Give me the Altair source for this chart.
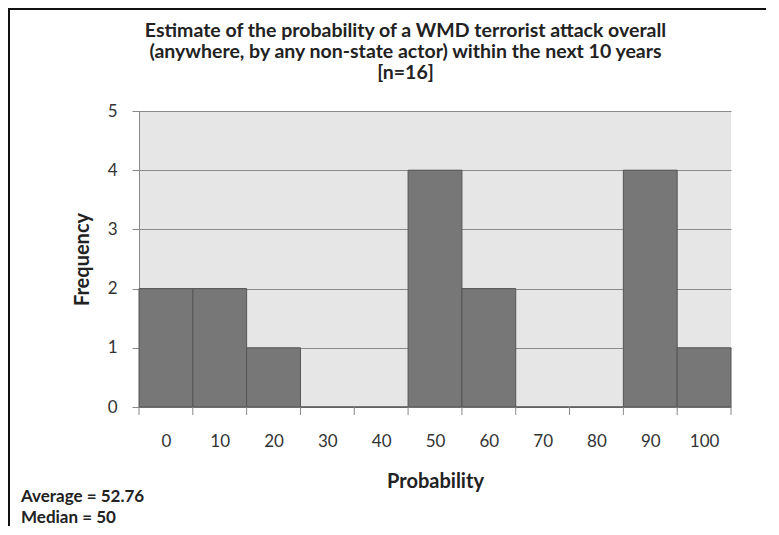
import altair as alt
import pandas as pd

# ---- data ----
probability = [0, 10, 20, 30, 40, 50, 60, 70, 80, 90, 100]
frequency = [2, 2, 1, 0, 0, 4, 2, 0, 0, 4, 1]
title_lines = [
    "Estimate of the probability of a WMD terrorist attack overall",
    "(anywhere, by any non-state actor) within the next 10 years",
    "[n=16]",
]
stats_lines = ["Average = 52.76", "Median = 50"]
bin_half = 5

df = pd.DataFrame({"p": probability, "f": frequency})
df["lo"] = df["p"] - bin_half
df["hi"] = df["p"] + bin_half
edges = pd.DataFrame({"e": [p - bin_half for p in probability] + [probability[-1] + bin_half]})

FONT = "Lato"
W, H = 592, 296

xscale = alt.Scale(domain=[probability[0] - bin_half, probability[-1] + bin_half], nice=False, zero=False)
yscale = alt.Scale(domain=[0, 5], nice=False)

bars = alt.Chart(df).mark_bar(fill="#777777", stroke="#555555", strokeWidth=1).encode(
    x=alt.X("lo:Q", scale=xscale, axis=alt.Axis(
        values=probability, ticks=False, grid=False, title="Probability",
        labelFontSize=17, labelFont=FONT, labelColor="#333333", labelPadding=26,
        domainColor="#888888", labelFlush=False,
        titleFont=FONT, titleFontSize=20, titleFontWeight="bold", titleColor="#222222",
        titleY=74, titleBaseline="middle")),
    x2="hi:Q",
    y=alt.Y("f:Q", scale=yscale, axis=alt.Axis(
        values=[0, 1, 2, 3, 4, 5], grid=True, gridColor="#8a8a8a", gridWidth=1,
        tickColor="#888888", tickSize=7, domainColor="#888888",
        labelFontSize=17, labelFont=FONT, labelColor="#333333", labelPadding=15,
        title="Frequency", titleFont=FONT, titleFontSize=20, titleFontWeight="bold",
        titleColor="#222222", titleAngle=270, titleX=-57, titleY=H / 2,
        titleAlign="center", titleBaseline="middle")),
    y2=alt.datum(0),
)

ticks = alt.Chart(edges).mark_rule(color="#888888", strokeWidth=1).encode(
    x=alt.X("e:Q", scale=xscale),
    y=alt.value(H),
    y2=alt.value(H + 8),
)


def text_layer(txt, x, y, size, align="left"):
    return alt.Chart(pd.DataFrame({"t": [txt]})).mark_text(
        align=align, baseline="middle", font=FONT, fontSize=size, fontWeight="bold", color="#222222"
    ).encode(text="t:N", x=alt.value(x), y=alt.value(y))


title_layers = [text_layer(t, 266.5, -80 + 21 * i, 19.5, align="center") for i, t in enumerate(title_lines)]
stats_layers = [text_layer(stats_lines[0], -118, H + 90, 17),
                text_layer(stats_lines[1], -118, H + 111, 17)]

border_left = alt.Chart(pd.DataFrame({"k": [0]})).mark_rule(color="#111111", strokeWidth=2).encode(
    x=alt.value(-130), y=alt.value(-103), y2=alt.value(H + 130))
border_top = alt.Chart(pd.DataFrame({"k": [0]})).mark_rule(color="#111111", strokeWidth=2).encode(
    y=alt.value(-102), x=alt.value(-131), x2=alt.value(W + 40))

chart = alt.layer(bars, ticks, *title_layers, *stats_layers, border_left, border_top).properties(
    width=W, height=H,
    autosize=alt.AutoSizeParams(type="none"),
    padding={"left": 131, "top": 103, "right": 35, "bottom": 119},
    background="white",
).configure_view(fill="#e6e6e6", stroke=None)

chart.save("out.html", embed_options={"renderer": "svg", "actions": False})
